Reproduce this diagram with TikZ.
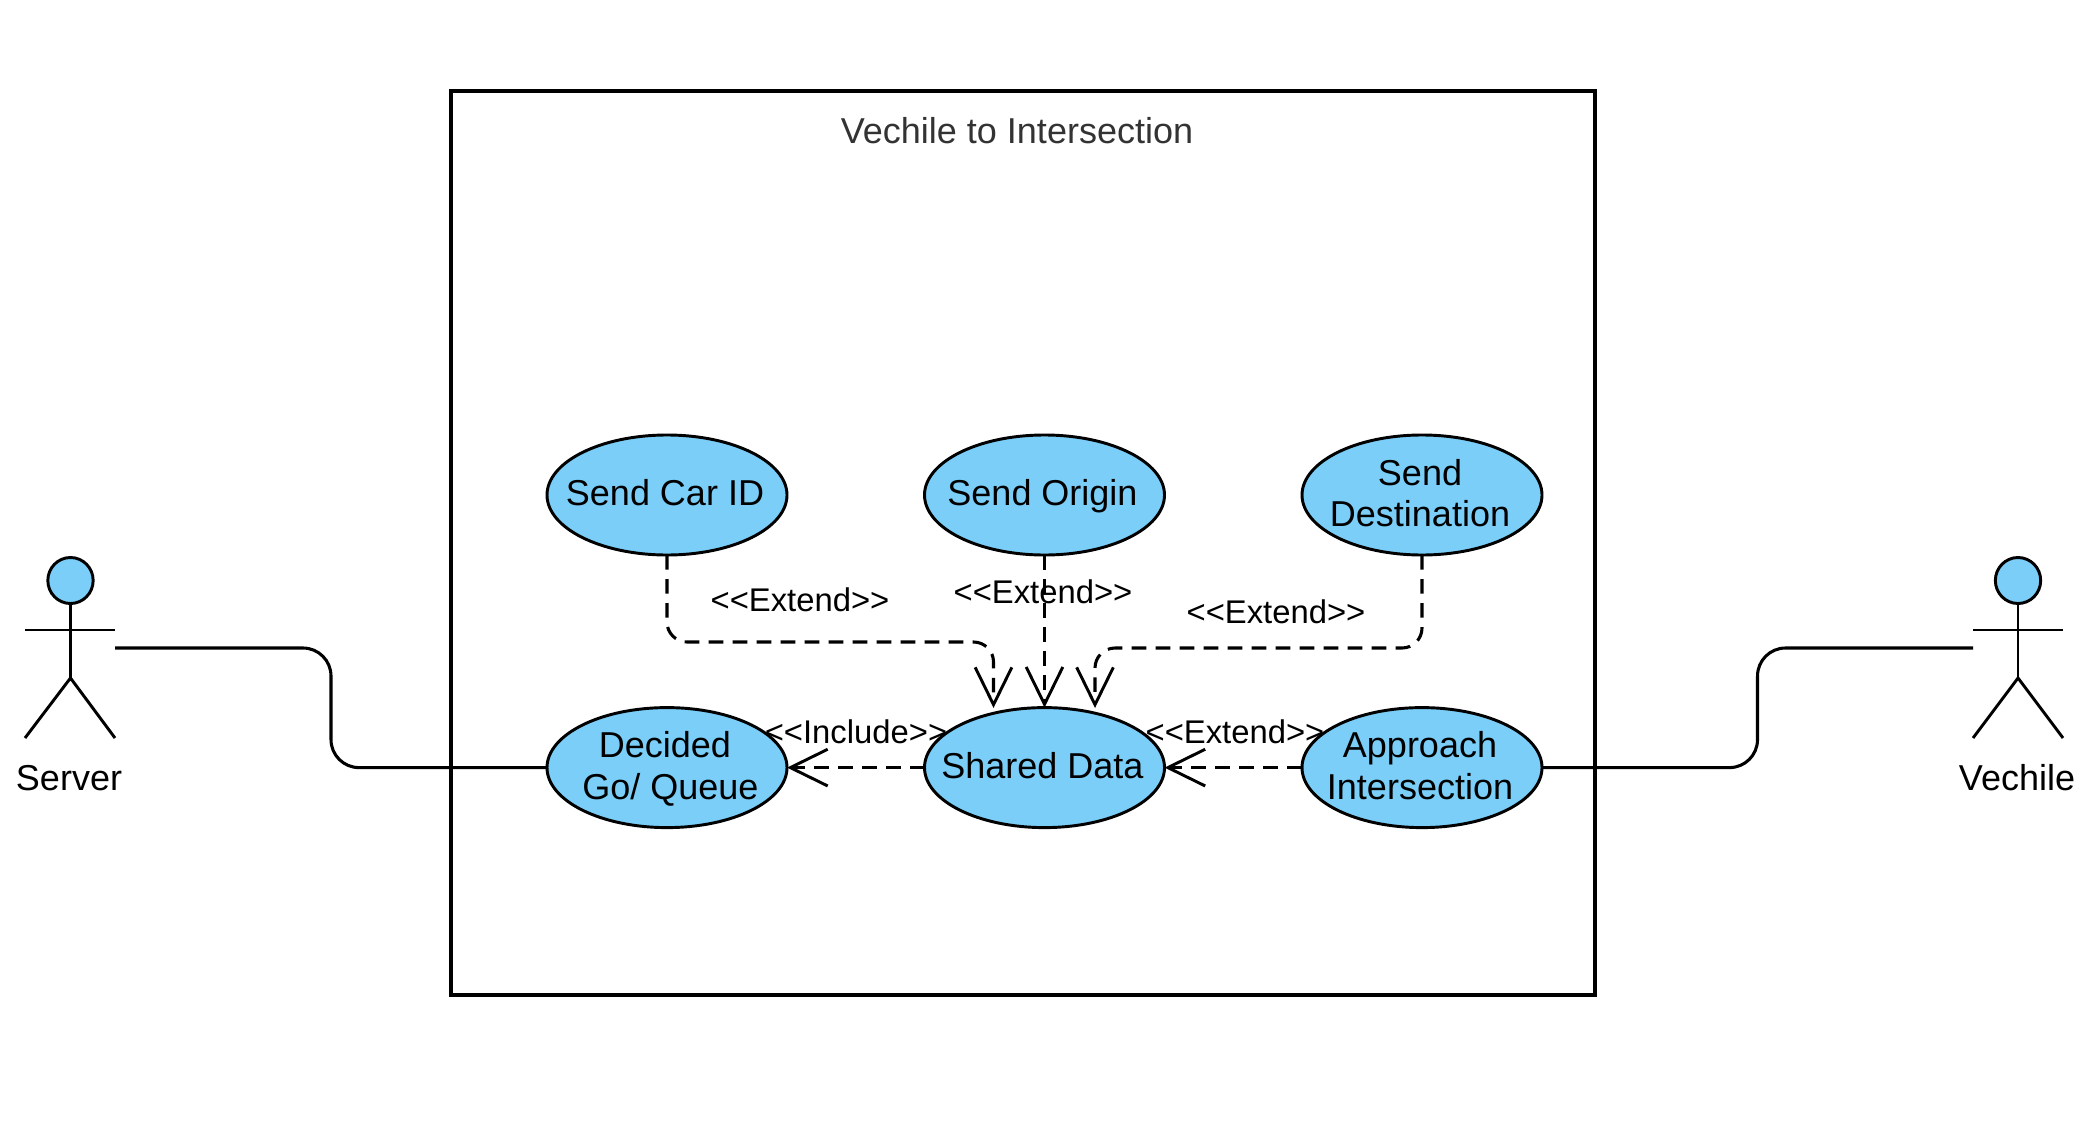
\documentclass[tikz,border=0pt]{standalone}
\usepackage{fontspec}
\setmainfont{Liberation Sans}
\usetikzlibrary{shapes.geometric,arrows.meta,calc}
\definecolor{usefill}{HTML}{7ACEF8}
\definecolor{titlegrey}{HTML}{333333}
\newcommand{\txtnudge}{\hspace*{3pt}}
\newcommand{\txtstrut}{\rule[-7.3pt]{0pt}{31pt}}
\newcommand{\dblopen}{<{}<}
\newcommand{\dblclose}{>{}>}
\tikzset{
  usecase/.style={ellipse,draw=black,fill=usefill,line width=2.2pt,minimum width=180pt,minimum height=90pt,inner sep=-25pt,outer sep=0pt,align=center,font=\fontsize{27}{31}\selectfont},
  stereo/.style={inner sep=0pt,font=\fontsize{24.6}{29}\selectfont},
  actorname/.style={inner sep=0pt,font=\fontsize{27}{31}\selectfont},
  sysbox/.style={rectangle,draw=black,line width=2.3pt,inner sep=0pt,outer sep=0pt,minimum width=858pt,minimum height=678pt,anchor=north west},
  limb/.style={line width=2.2pt},
  head/.style={ellipse,draw=black,fill=usefill,line width=2.2pt,minimum width=34pt,minimum height=34.5pt,inner sep=0pt,outer sep=0pt},
  assoc/.style={line width=2.3pt,rounded corners=21pt},
  dep/.style={line width=2.3pt,dash pattern=on 11pt off 7pt,rounded corners=15pt,-{Straight Barb[length=28pt,width=27.5pt,line width=2.2pt]}}
}
\begin{document}
\begin{tikzpicture}[x=0.75pt,y=-0.75pt]
\useasboundingbox (0,0) rectangle (2091,1138);
\node[sysbox] (box) at (451,91) {};
\node[inner sep=0pt,text=titlegrey,font=\fontsize{27}{31}\selectfont] (title) at (1017,130.5) {Vechile to Intersection};

% actors
\node[head] (shead) at (70.5,580.5) {};
\coordinate (ship) at (70.5,678);
\coordinate (sarmL) at (25,630);
\coordinate (sarmR) at (115,630);
\coordinate (sfootL) at (25,738);
\coordinate (sfootR) at (115,738);
\coordinate (shand) at (115,648);
\draw[limb] (shead.south) -- (ship);
\draw[limb] (sarmL) -- (sarmR);
\draw[limb] (sfootL) -- (ship) -- (sfootR);
\node[actorname] (sname) at (69,778) {Server};

\node[head] (vhead) at (2018,580.5) {};
\coordinate (vhip) at (2018,678);
\coordinate (varmL) at (1973,630);
\coordinate (varmR) at (2063,630);
\coordinate (vfootL) at (1973,738);
\coordinate (vfootR) at (2063,738);
\coordinate (vhand) at (1973,648);
\draw[limb] (vhead.south) -- (vhip);
\draw[limb] (varmL) -- (varmR);
\draw[limb] (vfootL) -- (vhip) -- (vfootR);
\node[actorname] (vname) at (2017,778) {Vechile};

% use cases
\node[usecase] (carid) at (667,495) {\txtstrut Send Car ID\txtnudge};
\node[usecase] (origin) at (1044.5,495) {\txtstrut Send Origin\txtnudge};
\node[usecase] (dest) at (1422,495) {\txtstrut Send\txtnudge\\\txtstrut Destination\txtnudge};
\node[usecase] (decided) at (667,767.6) {\txtstrut Decided\txtnudge\\\txtstrut\hspace*{5pt}Go/ Queue};
\node[usecase] (shared) at (1044.5,767.6) {\txtstrut Shared Data\txtnudge};
\node[usecase] (approach) at (1422,767.6) {\txtstrut Approach\txtnudge\\\txtstrut Intersection\txtnudge};

% solid associations
\coordinate (sbendA) at (331,648);
\coordinate (sbendB) at (331,767.6);
\draw[assoc] (shand) -- (sbendA) -- (sbendB) -- (decided.west);
\coordinate (vbendA) at (1757.5,767.6);
\coordinate (vbendB) at (1757.5,648);
\draw[assoc] (approach.east) -- (vbendA) -- (vbendB) -- (vhand);

% dashed dependencies
\coordinate (tipL) at (993.5,708);
\coordinate (tipR) at (1095,708);
\coordinate (l1) at (667,642);
\coordinate (l2) at (993.5,642);
\coordinate (r1) at (1422,648);
\coordinate (r2) at (1095,648);
\draw[dep] (carid.south) -- (l1) -- (l2) -- (tipL);
\draw[dep] (origin.south) -- (shared.north);
\draw[dep] (dest.south) -- (r1) -- (r2) -- (tipR);
\draw[dep] (shared.west) -- (decided.east);
\draw[dep] (approach.west) -- (shared.east);

% labels
\node[stereo] (e1) at (800,600) {\dblopen Extend\dblclose};
\node[stereo] (e2) at (1043,592) {\dblopen Extend\dblclose};
\node[stereo] (e3) at (1276,612) {\dblopen Extend\dblclose};
\node[stereo] (inc) at (856,732) {\dblopen Include\dblclose};
\node[stereo] (e4) at (1235,732) {\dblopen Extend\dblclose};
\end{tikzpicture}
\end{document}
